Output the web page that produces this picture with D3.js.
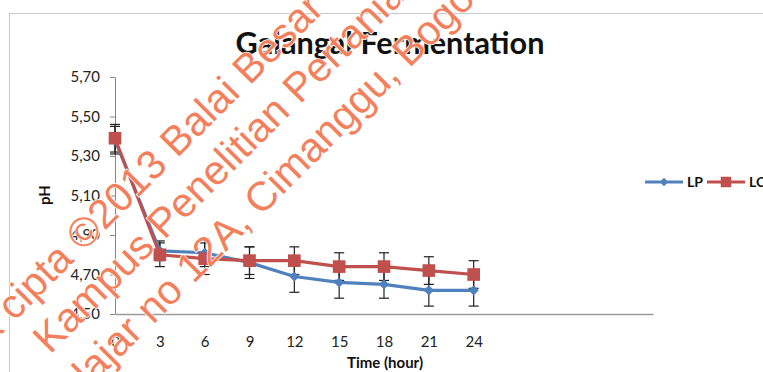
<!DOCTYPE html>
<html><head><meta charset="utf-8">
<script src="https://cdn.jsdelivr.net/npm/d3@7/dist/d3.min.js"></script>
<style>body{margin:0;background:#fff;} svg{display:block;}</style>
</head><body><svg id="c" width="763" height="372"></svg>
<script>
const hours = [0, 3, 6, 9, 12, 15, 18, 21, 24];
const lpValues = [5.38, 4.82, 4.81, 4.76, 4.69, 4.66, 4.65, 4.62, 4.62];
const lcValues = [5.39, 4.80, 4.78, 4.77, 4.77, 4.74, 4.74, 4.72, 4.70];
const lpErrors = [0.07, 0.05, 0.07, 0.08, 0.08, 0.08, 0.07, 0.08, 0.08];
const lcErrors = [0.07, 0.06, 0.08, 0.07, 0.07, 0.07, 0.07, 0.07, 0.07];
const yTicks = [4.5, 4.7, 4.9, 5.1, 5.3, 5.5, 5.7];
const seriesNames = ["LP", "LC"];
const titleText = "Galangal Fermentation";
const xTitle = "Time (hour)";
const yTitle = "pH";
const watermarkPre = ["Hak", "", "Jl. Tentara Pelajar"];
const watermarkMain = ["cipta ©2013 Balai Besar Penelitian", "Kampus Penelitian Pertanian", "no 12A, Cimanggu, Bogor"];

const svg = d3.select("#c");
const font = "Lato, 'Open Sans', sans-serif";

// chart frame
svg.append("rect").attr("x", 9.5).attr("y", 13.5).attr("width", 900).attr("height", 500)
  .attr("fill", "none").attr("stroke", "#c8c8c8").attr("stroke-width", 1);

const x = d3.scaleLinear().domain([0, 36]).range([115, 653]);
const y = d3.scaleLinear().domain([4.5, 5.7]).range([314, 77]);

// title
const t = svg.append("text").attr("x", 390).attr("y", 54).attr("text-anchor", "middle")
  .attr("font-family", font).attr("font-weight", 700).attr("font-size", 24)
  .attr("fill", "#111").text(titleText);
const tl = t.node().getComputedTextLength();
t.attr("font-size", 24 * 309 / tl);

// y axis
const yAxis = svg.append("g").attr("transform", "translate(115,0)")
  .call(d3.axisLeft(y).tickValues(yTicks).tickSize(5).tickSizeOuter(0).tickPadding(10)
    .tickFormat(d => d3.format(".2f")(d).replace(".", ",")));
yAxis.select(".domain").attr("stroke", "#868686");
yAxis.selectAll(".tick line").attr("stroke", "#868686");
yAxis.selectAll("text").attr("font-family", font).attr("font-size", 15).attr("fill", "#222");

// x axis
const xAxis = svg.append("g").attr("transform", "translate(0,314)")
  .call(d3.axisBottom(x).tickValues(hours).tickSize(0).tickSizeOuter(0).tickPadding(22));
xAxis.select(".domain").attr("stroke", "#9a9a9a").attr("stroke-width", 1.5);
xAxis.selectAll("text").attr("font-family", font).attr("font-size", 15).attr("fill", "#222");

// axis titles
svg.append("text").attr("x", 385).attr("y", 368).attr("text-anchor", "middle")
  .attr("font-family", font).attr("font-weight", 700).attr("font-size", 15).attr("fill", "#111").text(xTitle);
svg.append("text").attr("transform", "translate(50,195) rotate(-90)").attr("text-anchor", "middle")
  .attr("font-family", font).attr("font-weight", 700).attr("font-size", 15).attr("fill", "#111").text(yTitle);

const series = [
  {name: seriesNames[0], values: lpValues, errors: lpErrors, color: "#4f81bd", shape: "diamond"},
  {name: seriesNames[1], values: lcValues, errors: lcErrors, color: "#c0504d", shape: "square"}
];

// error bars
series.forEach(s => {
  const g = svg.append("g").attr("stroke", "#222").attr("stroke-width", 1.2);
  hours.forEach((h, i) => {
    const cx = x(h), top = y(s.values[i] + s.errors[i]), bot = y(s.values[i] - s.errors[i]);
    g.append("line").attr("x1", cx).attr("x2", cx).attr("y1", top).attr("y2", bot);
    g.append("line").attr("x1", cx - 5).attr("x2", cx + 5).attr("y1", top).attr("y2", top);
    g.append("line").attr("x1", cx - 5).attr("x2", cx + 5).attr("y1", bot).attr("y2", bot);
  });
});

const line = d3.line().x(d => x(d[0])).y(d => y(d[1]));
function marker(sel, shape, color) {
  if (shape === "diamond") {
    sel.append("path").attr("d", d3.symbol(d3.symbolSquare, 52)()).attr("transform", "rotate(45)").attr("fill", color);
  } else {
    sel.append("path").attr("d", d3.symbol(d3.symbolSquare, 160)()).attr("fill", color);
  }
}
series.forEach(s => {
  const pts = hours.map((h, i) => [h, s.values[i]]);
  svg.append("path").attr("d", line(pts)).attr("fill", "none").attr("stroke", s.color)
    .attr("stroke-width", 3.2).attr("stroke-linejoin", "round");
  pts.forEach(p => {
    const g = svg.append("g").attr("transform", `translate(${x(p[0])},${y(p[1])})`);
    marker(g, s.shape, s.color);
  });
});

// legend
const legendX = [645, 707];
series.forEach((s, i) => {
  const lx = legendX[i], ly = 182;
  svg.append("line").attr("x1", lx).attr("x2", lx + 38).attr("y1", ly).attr("y2", ly)
    .attr("stroke", s.color).attr("stroke-width", 3);
  const g = svg.append("g").attr("transform", `translate(${lx + 19},${ly})`);
  if (s.shape === "diamond") g.append("path").attr("d", d3.symbol(d3.symbolSquare, 36)()).attr("transform", "rotate(45)").attr("fill", s.color);
  else g.append("path").attr("d", d3.symbol(d3.symbolSquare, 110)()).attr("fill", s.color);
  svg.append("text").attr("x", lx + 42).attr("y", ly + 5).attr("font-family", font).attr("font-weight", 700)
    .attr("font-size", 14).attr("fill", "#111").text(s.name);
});

// watermark
const wmPos = [[4, 312], [40, 345], [143, 315]];
watermarkMain.forEach((txt, i) => {
  const g = svg.append("g").attr("transform", `translate(${wmPos[i][0]},${wmPos[i][1]}) rotate(-45)`);
  const common = s => s.attr("font-family", "'Liberation Sans', Arial, sans-serif").attr("font-size", 41)
    .attr("fill", "#f47f5c").attr("stroke", "#fff").attr("stroke-width", 1.5)
    .attr("paint-order", "stroke").attr("dominant-baseline", "central");
  common(g.append("text").attr("x", 0).attr("y", 0).text(txt));
  if (watermarkPre[i]) common(g.append("text").attr("x", -12).attr("y", 0).attr("text-anchor", "end").text(watermarkPre[i]));
});
</script></body></html>
